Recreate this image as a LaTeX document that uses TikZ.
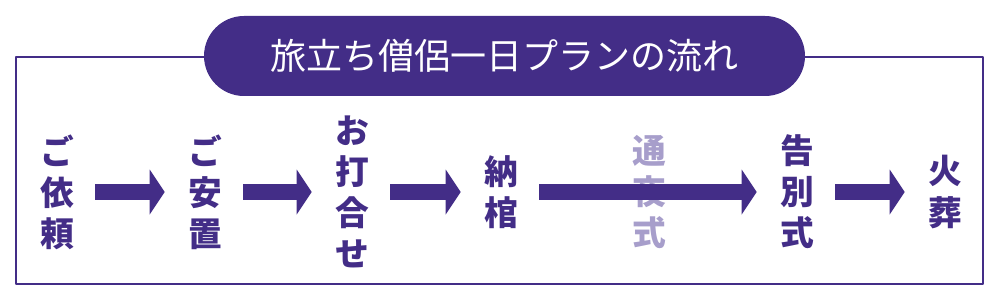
\documentclass[tikz,border=0pt]{standalone}
\usepackage{fontspec}
\newfontfamily\jpfont{Noto Sans CJK JP}
\usetikzlibrary{arrows.meta}
\definecolor{plum}{HTML}{432D87}
\definecolor{lilac}{HTML}{A79ECB}

\begin{document}
\begin{tikzpicture}[line join=round,
    stepnode/.style={text=plum, align=center, text width=0.8cm, inner xsep=0.575cm, inner ysep=0pt,
      font=\jpfont\bfseries\fontsize{24}{29.2}\selectfont},
    flow/.style={draw=plum, line width=0.4cm, -{Triangle[width=1.125cm,length=0.375cm,line width=0pt]}}]
  \useasboundingbox (0,0) rectangle (25,7.5);
  \draw[plum, line width=1.4pt] (0.4,0.4) rectangle (24.575,6.075);
  \node[fill=plum, text=white, minimum width=15.025cm, minimum height=2cm, rounded corners=1cm,
    inner sep=0pt, font=\jpfont\fontsize{25.6}{30}\selectfont] (title) at (12.6125,6.1) {旅立ち僧侶一日プランの流れ};
  \node[stepnode] (irai) at (1.4,2.7) {ご\\依\\頼};
  \node[stepnode] (anchi) at (5.1,2.7) {ご\\安\\置};
  \node[stepnode] (uchiawase) at (8.775,2.7) {お\\打\\合\\せ};
  \node[stepnode] (noukan) at (12.5,2.7) {納\\棺};
  \node[stepnode, text=lilac] (tsuya) at (16.2,2.7) {通\\夜\\式};
  \node[stepnode] (kokubetsu) at (19.9,2.7) {告\\別\\式};
  \node[stepnode] (kasou) at (23.6,2.7) {火\\葬};
  \draw[flow] (irai) -- (anchi);
  \draw[flow] (anchi) -- (uchiawase);
  \draw[flow] (uchiawase) -- (noukan);
  \draw[flow] (noukan) -- (kokubetsu);
  \draw[flow] (kokubetsu) -- (kasou);
\end{tikzpicture}
\end{document}
